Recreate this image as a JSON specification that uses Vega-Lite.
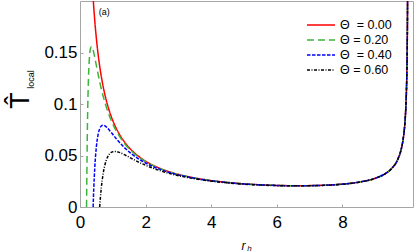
{
  "$schema": "https://vega.github.io/schema/vega-lite/v6.json",
  "width": 333,
  "height": 206,
  "autosize": {"type": "none"},
  "padding": {"left": 80, "top": 1, "right": 2, "bottom": 45},
  "background": "white",
  "config": {
    "font": "Liberation Sans",
    "view": {"stroke": "#a6a6a6", "strokeWidth": 1},
    "axis": {"domain": false, "grid": false, "tickColor": "#a6a6a6", "labelColor": "black", "titleColor": "black", "labelFont": "Liberation Sans", "titleFont": "Liberation Sans", "titleFontWeight": "normal", "labelFlush": false, "labelOverlap": false}
  },
  "layer": [
    {
      "data": {"values": [
        {"series": "Θ\u00a0 = 0.00", "r": 0.3, "T": 0.2693},
        {"series": "Θ\u00a0 = 0.00", "r": 0.35, "T": 0.2315},
        {"series": "Θ\u00a0 = 0.00", "r": 0.4, "T": 0.2031},
        {"series": "Θ\u00a0 = 0.00", "r": 0.45, "T": 0.1810},
        {"series": "Θ\u00a0 = 0.00", "r": 0.5, "T": 0.1633},
        {"series": "Θ\u00a0 = 0.00", "r": 0.55, "T": 0.1488},
        {"series": "Θ\u00a0 = 0.00", "r": 0.6, "T": 0.1368},
        {"series": "Θ\u00a0 = 0.00", "r": 0.65, "T": 0.1266},
        {"series": "Θ\u00a0 = 0.00", "r": 0.7, "T": 0.1179},
        {"series": "Θ\u00a0 = 0.00", "r": 0.75, "T": 0.1103},
        {"series": "Θ\u00a0 = 0.00", "r": 0.8, "T": 0.1037},
        {"series": "Θ\u00a0 = 0.00", "r": 0.9, "T": 0.09269},
        {"series": "Θ\u00a0 = 0.00", "r": 1.0, "T": 0.08388},
        {"series": "Θ\u00a0 = 0.00", "r": 1.1, "T": 0.07668},
        {"series": "Θ\u00a0 = 0.00", "r": 1.2, "T": 0.07069},
        {"series": "Θ\u00a0 = 0.00", "r": 1.4, "T": 0.06129},
        {"series": "Θ\u00a0 = 0.00", "r": 1.6, "T": 0.05427},
        {"series": "Θ\u00a0 = 0.00", "r": 1.8, "T": 0.04882},
        {"series": "Θ\u00a0 = 0.00", "r": 2.0, "T": 0.04449},
        {"series": "Θ\u00a0 = 0.00", "r": 2.5, "T": 0.03676},
        {"series": "Θ\u00a0 = 0.00", "r": 3.0, "T": 0.03171},
        {"series": "Θ\u00a0 = 0.00", "r": 3.5, "T": 0.02820},
        {"series": "Θ\u00a0 = 0.00", "r": 4.0, "T": 0.02568},
        {"series": "Θ\u00a0 = 0.00", "r": 4.5, "T": 0.02385},
        {"series": "Θ\u00a0 = 0.00", "r": 5.0, "T": 0.02251},
        {"series": "Θ\u00a0 = 0.00", "r": 5.5, "T": 0.02157},
        {"series": "Θ\u00a0 = 0.00", "r": 6.0, "T": 0.02097},
        {"series": "Θ\u00a0 = 0.00", "r": 6.5, "T": 0.02069},
        {"series": "Θ\u00a0 = 0.00", "r": 7.0, "T": 0.02076},
        {"series": "Θ\u00a0 = 0.00", "r": 7.5, "T": 0.02122},
        {"series": "Θ\u00a0 = 0.00", "r": 8.0, "T": 0.02224},
        {"series": "Θ\u00a0 = 0.00", "r": 8.5, "T": 0.02417},
        {"series": "Θ\u00a0 = 0.00", "r": 9.0, "T": 0.02796},
        {"series": "Θ\u00a0 = 0.00", "r": 9.3, "T": 0.03234},
        {"series": "Θ\u00a0 = 0.00", "r": 9.5, "T": 0.03746},
        {"series": "Θ\u00a0 = 0.00", "r": 9.7, "T": 0.04737},
        {"series": "Θ\u00a0 = 0.00", "r": 9.8, "T": 0.05742},
        {"series": "Θ\u00a0 = 0.00", "r": 9.85, "T": 0.06597},
        {"series": "Θ\u00a0 = 0.00", "r": 9.9, "T": 0.08038},
        {"series": "Θ\u00a0 = 0.00", "r": 9.93, "T": 0.09578},
        {"series": "Θ\u00a0 = 0.00", "r": 9.95, "T": 0.1131},
        {"series": "Θ\u00a0 = 0.00", "r": 9.97, "T": 0.1457},
        {"series": "Θ\u00a0 = 0.00", "r": 9.98, "T": 0.1783},
        {"series": "Θ\u00a0 = 0.00", "r": 9.985, "T": 0.2058},

        {"series": "Θ = 0.20", "r": 0.2, "T": 0},
        {"series": "Θ = 0.20", "r": 0.22, "T": 0.06348},
        {"series": "Θ = 0.20", "r": 0.25, "T": 0.1161},
        {"series": "Θ = 0.20", "r": 0.28, "T": 0.1412},
        {"series": "Θ = 0.20", "r": 0.3, "T": 0.1496},
        {"series": "Θ = 0.20", "r": 0.32, "T": 0.1540},
        {"series": "Θ = 0.20", "r": 0.35, "T": 0.1559},
        {"series": "Θ = 0.20", "r": 0.4, "T": 0.1523},
        {"series": "Θ = 0.20", "r": 0.45, "T": 0.1452},
        {"series": "Θ = 0.20", "r": 0.5, "T": 0.1372},
        {"series": "Θ = 0.20", "r": 0.55, "T": 0.1292},
        {"series": "Θ = 0.20", "r": 0.6, "T": 0.1216},
        {"series": "Θ = 0.20", "r": 0.65, "T": 0.1146},
        {"series": "Θ = 0.20", "r": 0.7, "T": 0.1083},
        {"series": "Θ = 0.20", "r": 0.75, "T": 0.1025},
        {"series": "Θ = 0.20", "r": 0.8, "T": 0.09723},
        {"series": "Θ = 0.20", "r": 0.9, "T": 0.08811},
        {"series": "Θ = 0.20", "r": 1.0, "T": 0.08053},
        {"series": "Θ = 0.20", "r": 1.1, "T": 0.07415},
        {"series": "Θ = 0.20", "r": 1.2, "T": 0.06873},
        {"series": "Θ = 0.20", "r": 1.4, "T": 0.06004},
        {"series": "Θ = 0.20", "r": 1.6, "T": 0.05342},
        {"series": "Θ = 0.20", "r": 1.8, "T": 0.04822},
        {"series": "Θ = 0.20", "r": 2.0, "T": 0.04404},
        {"series": "Θ = 0.20", "r": 2.5, "T": 0.03652},
        {"series": "Θ = 0.20", "r": 3.0, "T": 0.03156},
        {"series": "Θ = 0.20", "r": 3.5, "T": 0.02811},
        {"series": "Θ = 0.20", "r": 4.0, "T": 0.02562},
        {"series": "Θ = 0.20", "r": 4.5, "T": 0.02380},
        {"series": "Θ = 0.20", "r": 5.0, "T": 0.02247},
        {"series": "Θ = 0.20", "r": 5.5, "T": 0.02154},
        {"series": "Θ = 0.20", "r": 6.0, "T": 0.02095},
        {"series": "Θ = 0.20", "r": 6.5, "T": 0.02067},
        {"series": "Θ = 0.20", "r": 7.0, "T": 0.02074},
        {"series": "Θ = 0.20", "r": 7.5, "T": 0.02121},
        {"series": "Θ = 0.20", "r": 8.0, "T": 0.02223},
        {"series": "Θ = 0.20", "r": 8.5, "T": 0.02416},
        {"series": "Θ = 0.20", "r": 9.0, "T": 0.02795},
        {"series": "Θ = 0.20", "r": 9.3, "T": 0.03233},
        {"series": "Θ = 0.20", "r": 9.5, "T": 0.03744},
        {"series": "Θ = 0.20", "r": 9.7, "T": 0.04735},
        {"series": "Θ = 0.20", "r": 9.8, "T": 0.05740},
        {"series": "Θ = 0.20", "r": 9.85, "T": 0.06594},
        {"series": "Θ = 0.20", "r": 9.9, "T": 0.08035},
        {"series": "Θ = 0.20", "r": 9.93, "T": 0.09574},
        {"series": "Θ = 0.20", "r": 9.95, "T": 0.1131},
        {"series": "Θ = 0.20", "r": 9.97, "T": 0.1457},
        {"series": "Θ = 0.20", "r": 9.98, "T": 0.1782},
        {"series": "Θ = 0.20", "r": 9.985, "T": 0.2057},

        {"series": "Θ\u00a0 = 0.40", "r": 0.4, "T": 0},
        {"series": "Θ\u00a0 = 0.40", "r": 0.42, "T": 0.01800},
        {"series": "Θ\u00a0 = 0.40", "r": 0.45, "T": 0.03798},
        {"series": "Θ\u00a0 = 0.40", "r": 0.5, "T": 0.05878},
        {"series": "Θ\u00a0 = 0.40", "r": 0.55, "T": 0.07011},
        {"series": "Θ\u00a0 = 0.40", "r": 0.6, "T": 0.07600},
        {"series": "Θ\u00a0 = 0.40", "r": 0.65, "T": 0.07866},
        {"series": "Θ\u00a0 = 0.40", "r": 0.7, "T": 0.07939},
        {"series": "Θ\u00a0 = 0.40", "r": 0.75, "T": 0.07894},
        {"series": "Θ\u00a0 = 0.40", "r": 0.8, "T": 0.07778},
        {"series": "Θ\u00a0 = 0.40", "r": 0.9, "T": 0.07438},
        {"series": "Θ\u00a0 = 0.40", "r": 1.0, "T": 0.07046},
        {"series": "Θ\u00a0 = 0.40", "r": 1.1, "T": 0.06654},
        {"series": "Θ\u00a0 = 0.40", "r": 1.2, "T": 0.06284},
        {"series": "Θ\u00a0 = 0.40", "r": 1.4, "T": 0.05629},
        {"series": "Θ\u00a0 = 0.40", "r": 1.6, "T": 0.05087},
        {"series": "Θ\u00a0 = 0.40", "r": 1.8, "T": 0.04641},
        {"series": "Θ\u00a0 = 0.40", "r": 2.0, "T": 0.04271},
        {"series": "Θ\u00a0 = 0.40", "r": 2.5, "T": 0.03581},
        {"series": "Θ\u00a0 = 0.40", "r": 3.0, "T": 0.03114},
        {"series": "Θ\u00a0 = 0.40", "r": 3.5, "T": 0.02783},
        {"series": "Θ\u00a0 = 0.40", "r": 4.0, "T": 0.02543},
        {"series": "Θ\u00a0 = 0.40", "r": 4.5, "T": 0.02366},
        {"series": "Θ\u00a0 = 0.40", "r": 5.0, "T": 0.02236},
        {"series": "Θ\u00a0 = 0.40", "r": 5.5, "T": 0.02146},
        {"series": "Θ\u00a0 = 0.40", "r": 6.0, "T": 0.02088},
        {"series": "Θ\u00a0 = 0.40", "r": 6.5, "T": 0.02062},
        {"series": "Θ\u00a0 = 0.40", "r": 7.0, "T": 0.02069},
        {"series": "Θ\u00a0 = 0.40", "r": 7.5, "T": 0.02116},
        {"series": "Θ\u00a0 = 0.40", "r": 8.0, "T": 0.02219},
        {"series": "Θ\u00a0 = 0.40", "r": 8.5, "T": 0.02412},
        {"series": "Θ\u00a0 = 0.40", "r": 9.0, "T": 0.02791},
        {"series": "Θ\u00a0 = 0.40", "r": 9.3, "T": 0.03228},
        {"series": "Θ\u00a0 = 0.40", "r": 9.5, "T": 0.03739},
        {"series": "Θ\u00a0 = 0.40", "r": 9.7, "T": 0.04728},
        {"series": "Θ\u00a0 = 0.40", "r": 9.8, "T": 0.05732},
        {"series": "Θ\u00a0 = 0.40", "r": 9.85, "T": 0.06586},
        {"series": "Θ\u00a0 = 0.40", "r": 9.9, "T": 0.08025},
        {"series": "Θ\u00a0 = 0.40", "r": 9.93, "T": 0.09563},
        {"series": "Θ\u00a0 = 0.40", "r": 9.95, "T": 0.1129},
        {"series": "Θ\u00a0 = 0.40", "r": 9.97, "T": 0.1455},
        {"series": "Θ\u00a0 = 0.40", "r": 9.98, "T": 0.1780},
        {"series": "Θ\u00a0 = 0.40", "r": 9.985, "T": 0.2054},

        {"series": "Θ = 0.60", "r": 0.6, "T": 0},
        {"series": "Θ = 0.60", "r": 0.62, "T": 0.008412},
        {"series": "Θ = 0.60", "r": 0.65, "T": 0.01873},
        {"series": "Θ = 0.60", "r": 0.7, "T": 0.03128},
        {"series": "Θ = 0.60", "r": 0.75, "T": 0.03972},
        {"series": "Θ = 0.60", "r": 0.8, "T": 0.04537},
        {"series": "Θ = 0.60", "r": 0.9, "T": 0.05149},
        {"series": "Θ = 0.60", "r": 1.0, "T": 0.05368},
        {"series": "Θ = 0.60", "r": 1.1, "T": 0.05387},
        {"series": "Θ = 0.60", "r": 1.2, "T": 0.05302},
        {"series": "Θ = 0.60", "r": 1.4, "T": 0.05004},
        {"series": "Θ = 0.60", "r": 1.6, "T": 0.04664},
        {"series": "Θ = 0.60", "r": 1.8, "T": 0.04340},
        {"series": "Θ = 0.60", "r": 2.0, "T": 0.04048},
        {"series": "Θ = 0.60", "r": 2.5, "T": 0.03464},
        {"series": "Θ = 0.60", "r": 3.0, "T": 0.03044},
        {"series": "Θ = 0.60", "r": 3.5, "T": 0.02737},
        {"series": "Θ = 0.60", "r": 4.0, "T": 0.02511},
        {"series": "Θ = 0.60", "r": 4.5, "T": 0.02342},
        {"series": "Θ = 0.60", "r": 5.0, "T": 0.02218},
        {"series": "Θ = 0.60", "r": 5.5, "T": 0.02131},
        {"series": "Θ = 0.60", "r": 6.0, "T": 0.02076},
        {"series": "Θ = 0.60", "r": 6.5, "T": 0.02052},
        {"series": "Θ = 0.60", "r": 7.0, "T": 0.02060},
        {"series": "Θ = 0.60", "r": 7.5, "T": 0.02109},
        {"series": "Θ = 0.60", "r": 8.0, "T": 0.02212},
        {"series": "Θ = 0.60", "r": 8.5, "T": 0.02405},
        {"series": "Θ = 0.60", "r": 9.0, "T": 0.02784},
        {"series": "Θ = 0.60", "r": 9.3, "T": 0.03221},
        {"series": "Θ = 0.60", "r": 9.5, "T": 0.03731},
        {"series": "Θ = 0.60", "r": 9.7, "T": 0.04718},
        {"series": "Θ = 0.60", "r": 9.8, "T": 0.05720},
        {"series": "Θ = 0.60", "r": 9.85, "T": 0.06572},
        {"series": "Θ = 0.60", "r": 9.9, "T": 0.08009},
        {"series": "Θ = 0.60", "r": 9.93, "T": 0.09543},
        {"series": "Θ = 0.60", "r": 9.95, "T": 0.1127},
        {"series": "Θ = 0.60", "r": 9.97, "T": 0.1452},
        {"series": "Θ = 0.60", "r": 9.98, "T": 0.1777},
        {"series": "Θ = 0.60", "r": 9.985, "T": 0.2050}
      ]},
      "mark": {"type": "line", "clip": true, "strokeWidth": 1.5, "interpolate": "monotone"},
      "encoding": {
        "x": {"field": "r", "type": "quantitative",
          "scale": {"domain": [0, 10.15], "nice": false, "zero": false},
          "axis": {"values": [0, 2, 4, 6, 8], "format": "d", "labelFontSize": 17, "tickSize": -3, "labelPadding": 10,
            "title": "r", "titleFontStyle": "italic", "titleFontSize": 12, "titleX": 163, "titleY": 42, "titleBaseline": "alphabetic", "titleAlign": "center"}},
        "y": {"field": "T", "type": "quantitative",
          "scale": {"domain": [0, 0.2], "nice": false},
          "axis": {"values": [0, 0.05, 0.1, 0.15], "format": ".2~f", "labelFontSize": 17, "tickSize": -3, "labelPadding": 6,
            "title": "T\u0302", "titleFontSize": 27, "titleX": -60, "titleY": 99, "titleAlign": "center", "titleBaseline": "middle", "titleAngle": -90}},
        "color": {"field": "series", "type": "nominal",
          "scale": {"domain": ["Θ\u00a0 = 0.00", "Θ = 0.20", "Θ\u00a0 = 0.40", "Θ = 0.60"], "range": ["#ff0000", "#3cb43c", "#0000ff", "#000000"]},
          "legend": {"title": null, "orient": "none", "legendX": 226, "legendY": 16.5, "symbolType": "stroke", "symbolSize": 784, "symbolStrokeWidth": 1.5, "labelFontSize": 12.5, "labelFont": "Liberation Sans", "labelColor": "black", "labelOffset": 4, "rowPadding": 0, "clipHeight": 15}},
        "strokeDash": {"field": "series", "type": "nominal",
          "scale": {"domain": ["Θ\u00a0 = 0.00", "Θ = 0.20", "Θ\u00a0 = 0.40", "Θ = 0.60"], "range": [[1, 0], [7, 4], [3.5, 1.5], [3, 1.5, 1, 1.5]]},
          "legend": {"title": null, "orient": "none", "legendX": 226, "legendY": 16.5, "symbolType": "stroke", "symbolSize": 784, "symbolStrokeWidth": 1.5, "labelFontSize": 12.5, "labelFont": "Liberation Sans", "labelColor": "black", "labelOffset": 4, "rowPadding": 0, "clipHeight": 15}}
      }
    },
    {
      "data": {"values": [{"r": 0.74, "T": 0.1898, "label": "(a)"}]},
      "mark": {"type": "text", "fontSize": 9, "align": "center", "baseline": "middle", "color": "black", "font": "Liberation Sans"},
      "encoding": {
        "x": {"field": "r", "type": "quantitative",
          "axis": {"orient": "bottom", "labels": false, "ticks": false, "domain": false, "title": "h", "titleFontStyle": "italic", "titleFontSize": 8, "titleX": 169, "titleY": 43, "titleBaseline": "alphabetic", "titleAlign": "center"}},
        "y": {"field": "T", "type": "quantitative",
          "axis": {"orient": "left", "labels": false, "ticks": false, "domain": false, "title": "local", "titleFontSize": 9, "titleX": -50, "titleY": 78, "titleAlign": "center", "titleBaseline": "middle", "titleAngle": -90}},
        "text": {"field": "label"}
      }
    }
  ],
  "resolve": {"axis": {"x": "independent", "y": "independent"}}
}
